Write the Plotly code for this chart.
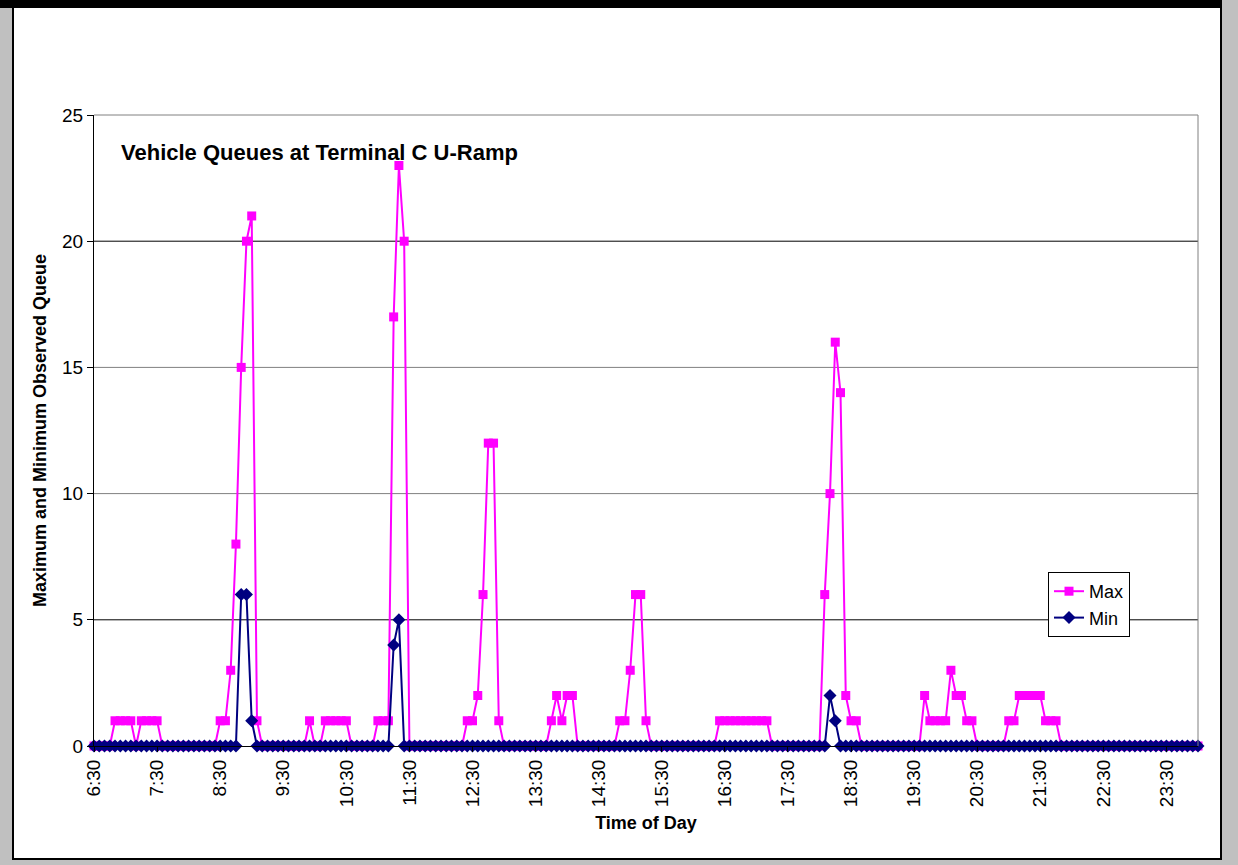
import plotly.graph_objects as go

# 5-minute observation slots from 6:30 through 24:00
times = [f"{(390 + 5 * i) // 60}:{(390 + 5 * i) % 60:02d}" for i in range(211)]

# hourly labels shown on the time axis
tick_labels = ["6:30", "7:30", "8:30", "9:30", "10:30", "11:30", "12:30", "13:30",
               "14:30", "15:30", "16:30", "17:30", "18:30", "19:30", "20:30",
               "21:30", "22:30", "23:30"]

# maximum observed queue per slot (one row per hour, starting at the half hour)
queue_max = [
    0, 0, 0, 0, 1, 1, 1, 1, 0, 1, 1, 1,          # 6:30
    1, 0, 0, 0, 0, 0, 0, 0, 0, 0, 0, 0,          # 7:30
    1, 1, 3, 8, 15, 20, 21, 1, 0, 0, 0, 0,       # 8:30
    0, 0, 0, 0, 0, 1, 0, 0, 1, 1, 1, 1,          # 9:30
    1, 0, 0, 0, 0, 0, 1, 1, 1, 17, 23, 20,       # 10:30
    0, 0, 0, 0, 0, 0, 0, 0, 0, 0, 0, 1,          # 11:30
    1, 2, 6, 12, 12, 1, 0, 0, 0, 0, 0, 0,        # 12:30
    0, 0, 0, 1, 2, 1, 2, 2, 0, 0, 0, 0,          # 13:30
    0, 0, 0, 0, 1, 1, 3, 6, 6, 1, 0, 0,          # 14:30
    0, 0, 0, 0, 0, 0, 0, 0, 0, 0, 0, 1,          # 15:30
    1, 1, 1, 1, 1, 1, 1, 1, 1, 0, 0, 0,          # 16:30
    0, 0, 0, 0, 0, 0, 0, 6, 10, 16, 14, 2,       # 17:30
    1, 1, 0, 0, 0, 0, 0, 0, 0, 0, 0, 0,          # 18:30
    0, 0, 2, 1, 1, 1, 1, 3, 2, 2, 1, 1,          # 19:30
    0, 0, 0, 0, 0, 0, 1, 1, 2, 2, 2, 2,          # 20:30
    2, 1, 1, 1, 0, 0, 0, 0, 0, 0, 0, 0,          # 21:30
    0, 0, 0, 0, 0, 0, 0, 0, 0, 0, 0, 0,          # 22:30
    0, 0, 0, 0, 0, 0, 0,                         # 23:30
]

# minimum observed queue per slot
queue_min = [
    0, 0, 0, 0, 0, 0, 0, 0, 0, 0, 0, 0,          # 6:30
    0, 0, 0, 0, 0, 0, 0, 0, 0, 0, 0, 0,          # 7:30
    0, 0, 0, 0, 6, 6, 1, 0, 0, 0, 0, 0,          # 8:30
    0, 0, 0, 0, 0, 0, 0, 0, 0, 0, 0, 0,          # 9:30
    0, 0, 0, 0, 0, 0, 0, 0, 0, 4, 5, 0,          # 10:30
    0, 0, 0, 0, 0, 0, 0, 0, 0, 0, 0, 0,          # 11:30
    0, 0, 0, 0, 0, 0, 0, 0, 0, 0, 0, 0,          # 12:30
    0, 0, 0, 0, 0, 0, 0, 0, 0, 0, 0, 0,          # 13:30
    0, 0, 0, 0, 0, 0, 0, 0, 0, 0, 0, 0,          # 14:30
    0, 0, 0, 0, 0, 0, 0, 0, 0, 0, 0, 0,          # 15:30
    0, 0, 0, 0, 0, 0, 0, 0, 0, 0, 0, 0,          # 16:30
    0, 0, 0, 0, 0, 0, 0, 0, 2, 1, 0, 0,          # 17:30
    0, 0, 0, 0, 0, 0, 0, 0, 0, 0, 0, 0,          # 18:30
    0, 0, 0, 0, 0, 0, 0, 0, 0, 0, 0, 0,          # 19:30
    0, 0, 0, 0, 0, 0, 0, 0, 0, 0, 0, 0,          # 20:30
    0, 0, 0, 0, 0, 0, 0, 0, 0, 0, 0, 0,          # 21:30
    0, 0, 0, 0, 0, 0, 0, 0, 0, 0, 0, 0,          # 22:30
    0, 0, 0, 0, 0, 0, 0,                         # 23:30
]

# horizontal grid levels and their line colours
grid_levels = [5, 10, 15, 20]
grid_colors = ["black", "#808080", "#808080", "black"]

FONT = "Arial, Liberation Sans, sans-serif"
W, H = 1238, 865
L, R, T, B = 94, 40, 115, 119
PW, PH = W - L - R, H - T - B


def px(x):
    return (x - L) / PW


def py(y):
    return (H - B - y) / PH


fig = go.Figure()
fig.add_trace(go.Scatter(
    x=times, y=queue_max, name="Max", mode="lines+markers",
    line=dict(color="#FF00FF", width=2),
    marker=dict(symbol="square", size=9, color="#FF00FF"),
    cliponaxis=False,
))
fig.add_trace(go.Scatter(
    x=times, y=queue_min, name="Min", mode="lines+markers",
    line=dict(color="#000080", width=2),
    marker=dict(symbol="diamond", size=10, color="#000080"),
    cliponaxis=False,
))

shapes = [
    # outer chart frame
    dict(type="rect", xref="paper", yref="paper",
         x0=px(13), x1=px(1221), y0=py(859), y1=py(4),
         line=dict(color="black", width=2), fillcolor="white", layer="below"),
    # dark strip along the top edge
    dict(type="rect", xref="paper", yref="paper",
         x0=px(0), x1=px(1222), y0=py(8), y1=py(0),
         line=dict(width=0), fillcolor="black", layer="below"),
    # top and right edges of the plot area
    dict(type="line", xref="paper", yref="paper", x0=0, x1=1, y0=1, y1=1,
         line=dict(color="#808080", width=1)),
    dict(type="line", xref="paper", yref="paper", x0=1, x1=1, y0=0, y1=1,
         line=dict(color="#808080", width=1)),
]
for lvl, col in zip(grid_levels, grid_colors):
    shapes.append(dict(type="line", xref="paper", yref="y", x0=0, x1=1,
                       y0=lvl, y1=lvl, line=dict(color=col, width=1),
                       layer="below"))

fig.update_layout(
    width=W, height=H,
    margin=dict(l=L, r=R, t=T, b=B, pad=0),
    paper_bgcolor="#C0C0C0",
    plot_bgcolor="rgba(0,0,0,0)",
    font=dict(family=FONT, size=18, color="black"),
    showlegend=True,
    legend=dict(
        x=px(1048), y=py(572), xanchor="left", yanchor="top",
        bgcolor="white", bordercolor="black", borderwidth=1,
        font=dict(family=FONT, size=18), tracegroupgap=0, itemwidth=30,
    ),
    shapes=shapes,
    annotations=[
        dict(text="<b>Vehicle Queues at Terminal C U-Ramp</b>",
             xref="paper", yref="paper", x=px(119), y=py(152),
             xanchor="left", yanchor="middle", showarrow=False,
             font=dict(family=FONT, size=22)),
    ],
    xaxis=dict(
        type="category", range=[0, 210],
        tickvals=tick_labels, ticktext=tick_labels, tickangle=-90,
        showgrid=False, showline=True, linecolor="black", linewidth=1,
        ticks="outside", ticklen=5, tickcolor="black",
        title=dict(text="<b>Time of Day</b>", font=dict(size=18), standoff=10),
        tickfont=dict(size=19),
    ),
    yaxis=dict(
        range=[0, 25], tickvals=[0, 5, 10, 15, 20, 25],
        showgrid=False, zeroline=False,
        showline=True, linecolor="black", linewidth=1,
        ticks="outside", ticklen=6, tickcolor="black",
        title=dict(text="<b>Maximum and Minimum Observed Queue</b>",
                   font=dict(size=18), standoff=10),
        tickfont=dict(size=19),
    ),
)

fig.write_html("out.html")
